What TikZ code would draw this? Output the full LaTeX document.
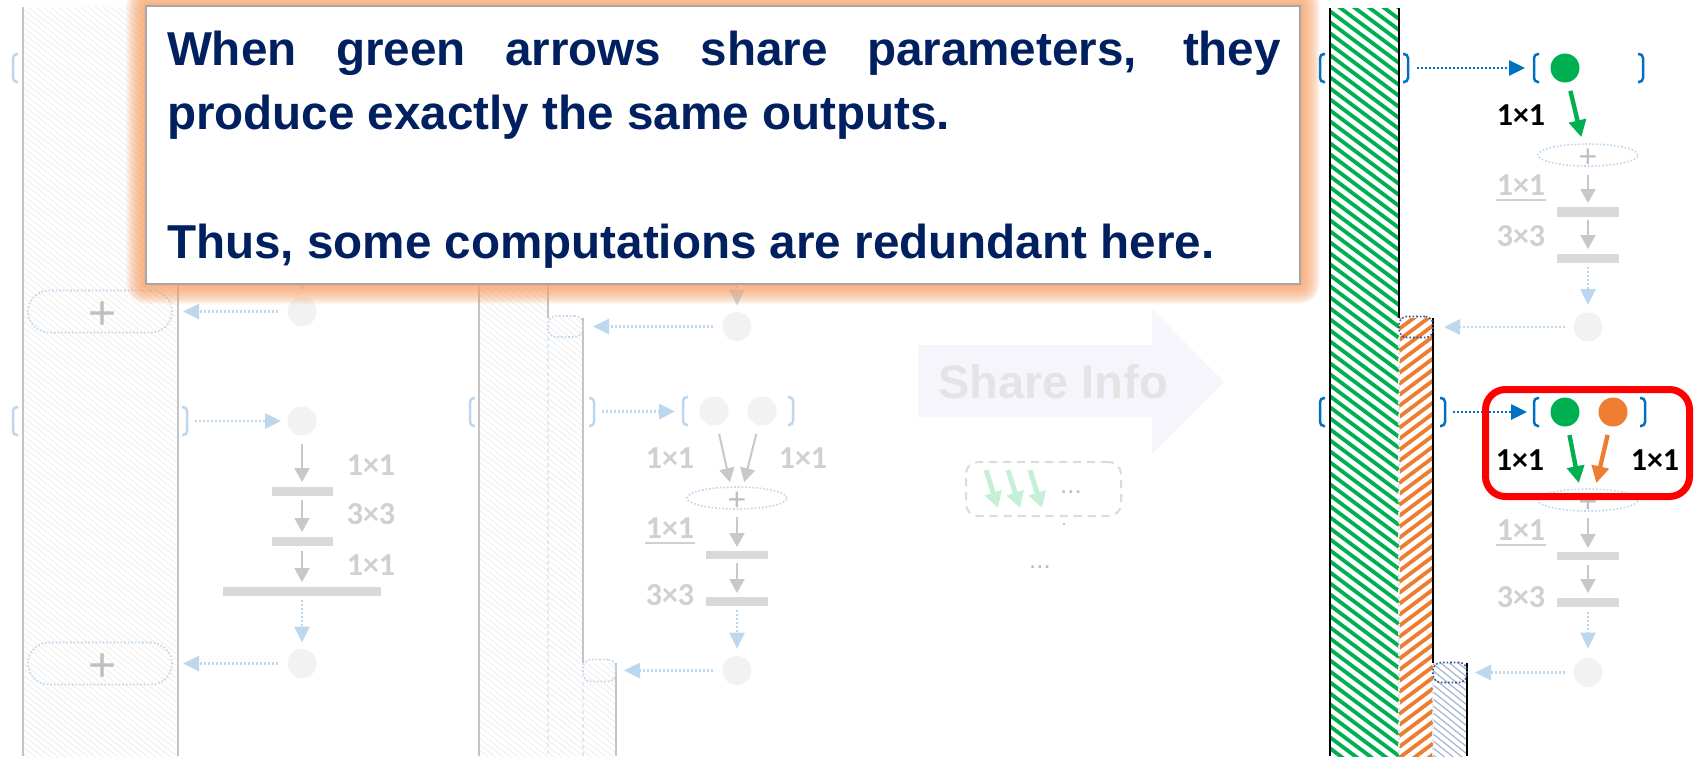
\documentclass[tikz,border=0pt]{standalone}
\usepackage{fontspec}
\setmainfont{Liberation Sans}
\newfontfamily\lblfont{Carlito}
\usetikzlibrary{arrows.meta,shapes.geometric}
\definecolor{navy}{HTML}{002060}
\definecolor{mygreen}{HTML}{00B050}
\definecolor{myorange}{HTML}{ED7D31}
\definecolor{sblue}{HTML}{0070C0}
\definecolor{fblue}{HTML}{BDD7EE}
\definecolor{pblue}{HTML}{DDEBF7}
\definecolor{dblue}{HTML}{2F5597}
\definecolor{agray}{HTML}{C8C8C8}
\definecolor{barc}{HTML}{D9D9D9}
\definecolor{lblfade}{HTML}{D0D0D0}
\definecolor{cfade}{HTML}{F2F2F2}
\definecolor{lgray}{HTML}{C4C4C4}
\definecolor{fhatch}{HTML}{F0F0F0}
\definecolor{bghatch}{HTML}{A9B8CF}
\definecolor{plusgray}{HTML}{BFBFBF}
\definecolor{boxgray}{HTML}{A6A6A6}
\definecolor{glowc}{HTML}{F9A66C}
\definecolor{shfill}{HTML}{F7F5FC}
\definecolor{shtext}{HTML}{E4E4E4}
\definecolor{lgreen}{HTML}{C6EFD8}
\definecolor{dashc}{HTML}{D6DCE5}
\definecolor{dotgray}{HTML}{BFBFBF}

% x1 y1 x2 y2 style period slope
\newcommand{\hatchrect}[7]{%
  \begin{scope}
    \clip (#1,#2) rectangle (#3,#4);
    \pgfmathsetmacro\hdx{#3-#1}%
    \pgfmathsetmacro\hdy{(#7)*\hdx}%
    \pgfmathsetmacro\hstart{#2-max(\hdy,0)}%
    \pgfmathsetmacro\hend{#4-min(\hdy,0)}%
    \pgfmathtruncatemacro\hN{(\hend-\hstart)/#6+1}%
    \foreach \hi in {0,...,\hN}{%
      \pgfmathsetmacro\hya{\hstart+\hi*#6}%
      \pgfmathsetmacro\hyb{\hya+\hdy}%
      \draw[#5] (#1,\hya) -- (#3,\hyb);
    }%
  \end{scope}}
\newcommand{\mylbr}[3]{\draw[#3,line width=1.25pt,rounded corners=2pt] (#1+5,#2-14) -- (#1,#2-14) -- (#1,#2+14) -- (#1+5,#2+14);}
\newcommand{\myrbr}[3]{\draw[#3,line width=1.25pt,rounded corners=2pt] (#1-5,#2-14) -- (#1,#2-14) -- (#1,#2+14) -- (#1-5,#2+14);}

\tikzset{
  every node/.style={inner sep=0pt,outer sep=0pt},
  garr/.style={draw=agray,line width=1pt,-{Triangle[length=7pt,width=7.5pt]}},
  bdot/.style={draw=fblue,line width=1.3pt,dash pattern=on 1.1pt off 0.9pt,-{Triangle[length=8pt,width=7.5pt]}},
  sbdot/.style={bdot,draw=sblue},
  carr/.style={line width=2.2pt,-{Triangle[length=8.5pt,width=8.5pt]}},
  lgarr/.style={draw=lgreen,line width=2.5pt,-{Triangle[length=8pt,width=8.5pt]}},
  fcirc/.style={circle,fill=cfade,minimum size=14.5pt},
  gcirc/.style={circle,fill=mygreen,minimum size=14.5pt},
  ocirc/.style={circle,fill=myorange,minimum size=14.5pt},
  barbox/.style={rectangle,fill=barc,minimum width=31pt,minimum height=4.5pt},
  lbl/.style={font=\lblfont\bfseries\fontsize{16}{16}\selectfont,text=lblfade},
  lblk/.style={lbl,text=black},
  ellnode/.style={ellipse,draw=fblue,line width=0.8pt,dash pattern=on 0.8pt off 1pt,minimum width=50pt,minimum height=11pt},
  pillbox/.style={rectangle,rounded corners=10.5pt,draw=fblue,line width=0.8pt,dash pattern=on 0.8pt off 1pt,minimum width=72pt,minimum height=21pt},
  srect/.style={rectangle,rounded corners=4pt,draw=fblue,line width=0.8pt,dash pattern=on 0.8pt off 1pt,minimum width=17pt,minimum height=10.5pt},
  plusbig/.style={font=\fontsize{24}{24}\selectfont,text=plusgray},
  plussmall/.style={font=\fontsize{16}{16}\selectfont,text=plusgray},
  uline/.style={draw=lblfade,line width=1.2pt},
  colline/.style={draw=lgray,line width=1pt},
  blkline/.style={draw=black,line width=1.1pt},
  paled/.style={draw=pblue,line width=0.6pt,dash pattern=on 2pt off 1.5pt},
  fh/.style={draw=fhatch,line width=0.5pt},
}

\begin{document}
\begin{tikzpicture}[x=0.5pt,y=-0.5pt]
\useasboundingbox (0,0) rectangle (1704,756);
\fill[white] (0,0) rectangle (1704,756);

% ---------- hatched bands ----------
\hatchrect{23}{7}{178}{756}{fh}{6}{0.8}
\hatchrect{479}{7}{548}{756}{fh}{6}{0.8}
\hatchrect{548}{318}{583}{756}{fh}{6}{0.8}
\hatchrect{583}{663}{616}{756}{fh}{6}{0.8}
\hatchrect{1330}{8}{1399}{756}{draw=mygreen,line width=1.9pt}{11}{0.75}
\hatchrect{1399}{318}{1433}{756}{draw=myorange,line width=1.9pt}{11}{-0.75}
\hatchrect{1433}{663}{1467}{756}{draw=bghatch,line width=0.6pt}{7}{0.8}

% band borders
\draw[colline] (23,7) -- (23,756);
\draw[colline] (178,7) -- (178,756);
\draw[colline] (479,7) -- (479,756);
\draw[colline] (548,7) -- (548,318);
\draw[colline] (583,318) -- (583,663);
\draw[colline] (616,663) -- (616,756);
\draw[paled] (548,337) -- (548,756);
\draw[paled] (583,682) -- (583,756);
\draw[blkline] (1330,8) -- (1330,756);
\draw[blkline] (1399,8) -- (1399,318);
\draw[blkline] (1433,318) -- (1433,663);
\draw[blkline] (1467,663) -- (1467,756);
\draw[paled] (1399,337) -- (1399,756);
\draw[paled] (1433,683) -- (1433,756);

% ---------- column 1 ----------
\mylbr{13}{68}{fblue}
\node[fcirc] (D1a) at (302,311.5) {};
\node[pillbox] (P1a) at (100,311.5) {};
\node[plusbig] (P1ap) at (103,316) {+};
\coordinate (T1) at (302,250);
\draw[bdot,shorten >=3.25pt] (T1) -- (D1a);
\draw[bdot,shorten <=4.75pt,shorten >=5.5pt] (D1a) -- (P1a);

\mylbr{13}{421}{fblue}
\myrbr{187}{421}{fblue}
\coordinate (r1b) at (187,421);
\node[fcirc] (C1b) at (302,421) {};
\draw[bdot,shorten <=4pt,shorten >=3.25pt] (r1b) -- (C1b);
\node[barbox,minimum width=30.5pt] (B1a) at (302,491.5) {};
\node[barbox,minimum width=30.5pt] (B1b) at (302,541.5) {};
\node[barbox,minimum width=79pt] (B1c) at (302,591.5) {};
\draw[garr,shorten <=4.25pt,shorten >=2.5pt] (C1b) -- (B1a);
\draw[garr,shorten <=2pt,shorten >=2.5pt] (B1a) -- (B1b);
\draw[garr,shorten <=2.5pt,shorten >=2.5pt] (B1b) -- (B1c);
\node[lbl] (L1a) at (371,465) {1×1};
\node[lbl] (L1b) at (371,514) {3×3};
\node[lbl] (L1c) at (371,565) {1×1};
\node[fcirc] (D1b) at (302,663.5) {};
\draw[bdot,shorten <=2pt,shorten >=3.25pt] (B1c) -- (D1b);
\node[pillbox] (P1b) at (100,663.5) {};
\node[plusbig] (P1bp) at (103,668) {+};
\draw[bdot,shorten <=4.75pt,shorten >=5.5pt] (D1b) -- (P1b);

% ---------- column 2 ----------
\node[srect,minimum width=17.5pt] (S2a) at (565.5,326.5) {};
\node[srect,minimum width=16.5pt,minimum height=11pt] (S2b) at (599.5,670.5) {};
\node[fcirc] (D2a) at (737,326.5) {};
\coordinate (T2) at (737,250);
\draw[bdot,shorten >=3.25pt] (T2) -- (D2a);
\draw[bdot,shorten <=4.75pt,shorten >=5pt] (D2a) -- (S2a);

\mylbr{470}{412}{fblue}
\myrbr{594}{412}{fblue}
\coordinate (r2b) at (594,411.5);
\coordinate (l2c) at (683,411.5);
\draw[bdot,shorten <=4pt,shorten >=4pt] (r2b) -- (l2c);
\mylbr{683}{411}{fblue}
\myrbr{793}{411}{fblue}
\node[fcirc] (E2a) at (714,411) {};
\node[fcirc] (E2b) at (762,411) {};
\node[ellnode] (X2) at (737,498) {};
\node[plussmall] (X2p) at (737,501) {+};
\draw[garr,shorten <=4.5pt,shorten >=2.5pt] (E2a) -- ([xshift=-3pt]X2.north);
\draw[garr,shorten <=4.5pt,shorten >=2.5pt] (E2b) -- ([xshift=3pt]X2.north);
\node[lbl] (L2a) at (670,458) {1×1};
\node[lbl] (L2b) at (803,458) {1×1};
\node[barbox,minimum height=4pt] (B2a) at (737,555) {};
\node[barbox] (B2b) at (737,601.5) {};
\draw[garr,shorten <=4pt,shorten >=2pt] (X2) -- (B2a);
\draw[garr,shorten <=2pt,shorten >=2pt] (B2a) -- (B2b);
\node[lbl] (U2) at (670,528) {1×1};
\draw[uline] ([xshift=-0.5pt,yshift=-2.25pt]U2.base west) -- ([xshift=0.5pt,yshift=-2.25pt]U2.base east);
\node[lbl] (L2c) at (670,595) {3×3};
\node[fcirc] (D2b) at (737,670.5) {};
\draw[bdot,shorten <=2pt,shorten >=3.75pt] (B2b) -- (D2b);
\draw[bdot,shorten <=4.75pt,shorten >=4pt] (D2b) -- (S2b);

% ---------- Share Info ----------
\fill[shfill] (918,345) -- (1152,345) -- (1152,309) -- (1224,382) -- (1152,454) -- (1152,417) -- (918,417) -- cycle;
\node[font=\bfseries\fontsize{23.5}{24}\selectfont,text=shtext] (shareinfo) at (1053,382) {Share Info};
\node[draw=dashc,line width=1pt,dash pattern=on 4pt off 3pt,rounded corners=6pt,minimum width=77.5pt,minimum height=27pt] (dbox) at (1043.5,489) {};
\coordinate (ga1s) at (986,470); \coordinate (ga1e) at (998,508);
\coordinate (ga2s) at (1008,470); \coordinate (ga2e) at (1020,508);
\coordinate (ga3s) at (1030,470); \coordinate (ga3e) at (1042,508);
\draw[lgarr] (ga1s) -- (ga1e);
\draw[lgarr] (ga2s) -- (ga2e);
\draw[lgarr] (ga3s) -- (ga3e);
\node[font=\fontsize{13}{13}\selectfont,text=dotgray] (dots1) at (1071,492) {...};
\fill[dotgray] (1064,524) circle[radius=0.7pt];
\node[font=\fontsize{13}{13}\selectfont,text=dotgray] (dots2) at (1040,567) {...};

% ---------- right column, upper ----------
\node[srect,draw=dblue] (S4a) at (1416,327) {};
\node[srect,draw=dblue,minimum height=10pt] (S4b) at (1450,672.5) {};
\mylbr{1320}{68}{sblue}
\myrbr{1408}{68}{sblue}
\coordinate (r4a) at (1408,68);
\coordinate (l4a) at (1534,68);
\draw[sbdot,shorten <=4.5pt,shorten >=4.5pt] (r4a) -- (l4a);
\mylbr{1534}{68}{sblue}
\myrbr{1643}{68}{sblue}
\node[gcirc] (G4a) at (1565,68) {};
\node[ellnode] (X4a) at (1588,155) {};
\node[plussmall] (X4ap) at (1588,158) {+};
\draw[carr,draw=mygreen,shorten <=4.5pt,shorten >=3.5pt] (G4a) -- ([xshift=-2.5pt]X4a.north);
\node[lblk] (K4a) at (1521,115.5) {1×1};
\node[barbox,minimum height=5pt] (B4a) at (1588,212) {};
\node[barbox] (B4b) at (1588,258.5) {};
\draw[garr,shorten <=4.5pt,shorten >=2pt] (X4a) -- (B4a);
\draw[garr,shorten <=1.5pt,shorten >=2.5pt] (B4a) -- (B4b);
\node[lbl] (U4a) at (1521,185) {1×1};
\draw[uline] ([xshift=-0.5pt,yshift=-2.25pt]U4a.base west) -- ([xshift=0.5pt,yshift=-2.25pt]U4a.base east);
\node[lbl] (L4a) at (1521,236) {3×3};
\node[fcirc] (D4a) at (1588,327) {};
\draw[bdot,shorten <=2pt,shorten >=3.75pt] (B4b) -- (D4a);
\draw[bdot,shorten <=4.25pt,shorten >=5.5pt] (D4a) -- (S4a);

% ---------- right column, lower ----------
\mylbr{1320}{412}{sblue}
\myrbr{1445}{412}{sblue}
\coordinate (r4b) at (1445,412);
\coordinate (l4b) at (1534,412);
\draw[sbdot,shorten <=4pt,shorten >=3.5pt] (r4b) -- (l4b);
\mylbr{1534}{412}{sblue}
\myrbr{1645}{412}{sblue}
\node[gcirc] (G4b) at (1565,412) {};
\node[ocirc] (O4b) at (1613,412) {};
\node[ellnode] (X4b) at (1588,500) {};
\node[plussmall] (X4bp) at (1588,503) {+};
\draw[carr,draw=mygreen,shorten <=4.5pt,shorten >=3pt] (G4b) -- ([xshift=-4pt]X4b.north);
\draw[carr,draw=myorange,shorten <=4.5pt,shorten >=3pt] (O4b) -- ([xshift=3.5pt]X4b.north);
\node[lblk] (K4b) at (1520,460) {1×1};
\node[lblk] (K4c) at (1655,460) {1×1};
\node[draw=red,line width=3.5pt,rounded corners=10pt,minimum width=102pt,minimum height=53.5pt] (redbox) at (1587.5,443) {};
\node[barbox,minimum height=4pt] (B4c) at (1588,556) {};
\node[barbox] (B4d) at (1588,602.5) {};
\draw[garr,shorten <=3.5pt,shorten >=2pt] (X4b) -- (B4c);
\draw[garr,shorten <=2.5pt,shorten >=2.5pt] (B4c) -- (B4d);
\node[lbl] (U4b) at (1521,530) {1×1};
\draw[uline] ([xshift=-0.5pt,yshift=-2.25pt]U4b.base west) -- ([xshift=0.5pt,yshift=-2.25pt]U4b.base east);
\node[lbl] (L4b) at (1521,597) {3×3};
\node[fcirc] (D4b) at (1588,672.5) {};
\draw[bdot,shorten <=2.5pt,shorten >=4.75pt] (B4d) -- (D4b);
\draw[bdot,shorten <=4.25pt,shorten >=4pt] (D4b) -- (S4b);

% ---------- callout ----------
\foreach \g in {1,...,20}{%
  \pgfmathsetmacro\gr{0.5*\g}%
  \fill[glowc,fill opacity=0.08,rounded corners=\gr pt] (146-\g,6-\g) rectangle (1300+\g,284+\g);
}
\node[draw=boxgray,line width=1.25pt,fill=white,minimum width=577pt,minimum height=139pt] (callout) at (723,145) {};
\node[anchor=base west,text=navy,font=\bfseries\fontsize{23.8}{32}\selectfont] (ctext) at (167,65) {\parbox[t]{557pt}{\hyphenpenalty=10000\exhyphenpenalty=10000\hbadness=10000 When green arrows share parameters, they produce exactly the same outputs.\par\vspace{32.5pt}Thus, some computations are redundant here.}};
\end{tikzpicture}
\end{document}
